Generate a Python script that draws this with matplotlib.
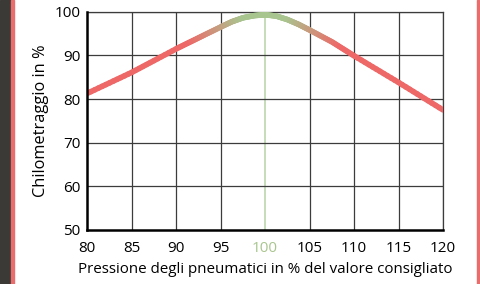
import numpy as np
import matplotlib
matplotlib.use("Agg")
import matplotlib.pyplot as plt
from matplotlib.collections import LineCollection
from matplotlib.patches import Rectangle
from matplotlib.colors import to_rgb

pressure = [80, 85, 90, 92.5, 95, 96.25, 97.5, 98.75, 100, 101.25, 102.5, 103.75, 105, 107.5, 110, 115, 120]
mileage = [81.3, 86.1, 91.5, 94.0, 96.5, 97.7, 98.6, 99.1, 99.3, 99.0, 98.2, 97.1, 95.8, 93.1, 89.9, 83.8, 77.5]
x_ticks = [80, 85, 90, 95, 100, 105, 110, 115, 120]
y_ticks = [50, 60, 70, 80, 90, 100]

RED = np.array(to_rgb("#ee6868"))
GREEN = np.array(to_rgb("#a9c58f"))
GRID = "#3c3c3c"

plt.rcParams['font.family'] = ['Open Sans', 'DejaVu Sans']

fig = plt.figure(figsize=(4.8, 2.84), dpi=100, facecolor="white")
# decorative frame: dark strip and pink borders
fig.patches.append(Rectangle((0, 0), 11/480, 1, transform=fig.transFigure, color="#3b3a37", zorder=0))
fig.patches.append(Rectangle((11/480, 0), 2.5/480, 1, transform=fig.transFigure, color="#ea6d6d", zorder=0))
fig.patches.append(Rectangle((476.8/480, 0), 2.5/480, 1, transform=fig.transFigure, color="#ea6d6d", zorder=0))

ax = fig.add_axes([87.3/480, (284-230)/284, (443-87.3)/480, (230-11.7)/284])
ax.set_xlim(80, 120)
ax.set_ylim(50, 100)
ax.set_xticks(x_ticks)
ax.set_yticks(y_ticks)

for xv in x_ticks[1:]:
    if xv == 100:
        ax.axvline(xv, color="#bcd6ad", lw=1.2, zorder=1)
    else:
        ax.axvline(xv, color=GRID, lw=0.9, zorder=1)
for yv in y_ticks[1:]:
    ax.axhline(yv, color=GRID, lw=0.9, zorder=1)

# gradient coloured curve
xs, ys = [], []
for i in range(len(pressure) - 1):
    t = np.linspace(0, 1, 12, endpoint=False)
    xs.extend(pressure[i] + (pressure[i+1] - pressure[i]) * t)
    ys.extend(mileage[i] + (mileage[i+1] - mileage[i]) * t)
xs.append(pressure[-1]); ys.append(mileage[-1])
xs = np.array(xs); ys = np.array(ys)
pts = np.column_stack([xs, ys]).reshape(-1, 1, 2)
segs = np.concatenate([pts[:-1], pts[1:]], axis=1)
mid = (xs[:-1] + xs[1:]) / 2
w = np.clip(1 - (np.abs(mid - 100) - 2.5) / 6.0, 0, 1)[:, None]
cols = RED * (1 - w) + GREEN * w
lc = LineCollection(segs, colors=cols, linewidths=4.0, capstyle="round", joinstyle="round", zorder=3)
ax.add_collection(lc)

for s in ["top", "right"]:
    ax.spines[s].set_color(GRID)
    ax.spines[s].set_linewidth(0.9)
for s in ["left", "bottom"]:
    ax.spines[s].set_color("black")
    ax.spines[s].set_linewidth(1.8)
    ax.spines[s].set_zorder(4)

ax.tick_params(length=0, labelsize=11, colors="black")
ax.tick_params(axis="x", pad=8)
ax.tick_params(axis="y", pad=5)
for lab in ax.get_xticklabels():
    if lab.get_text() == "100":
        lab.set_color("#a9c58f")
ax.set_xlabel("Pressione degli pneumatici in % del valore consigliato", fontsize=10.9, labelpad=4)
ax.set_ylabel("Chilometraggio in %", fontsize=11.8, labelpad=4)

fig.savefig("out.png", dpi=100, facecolor="white")
